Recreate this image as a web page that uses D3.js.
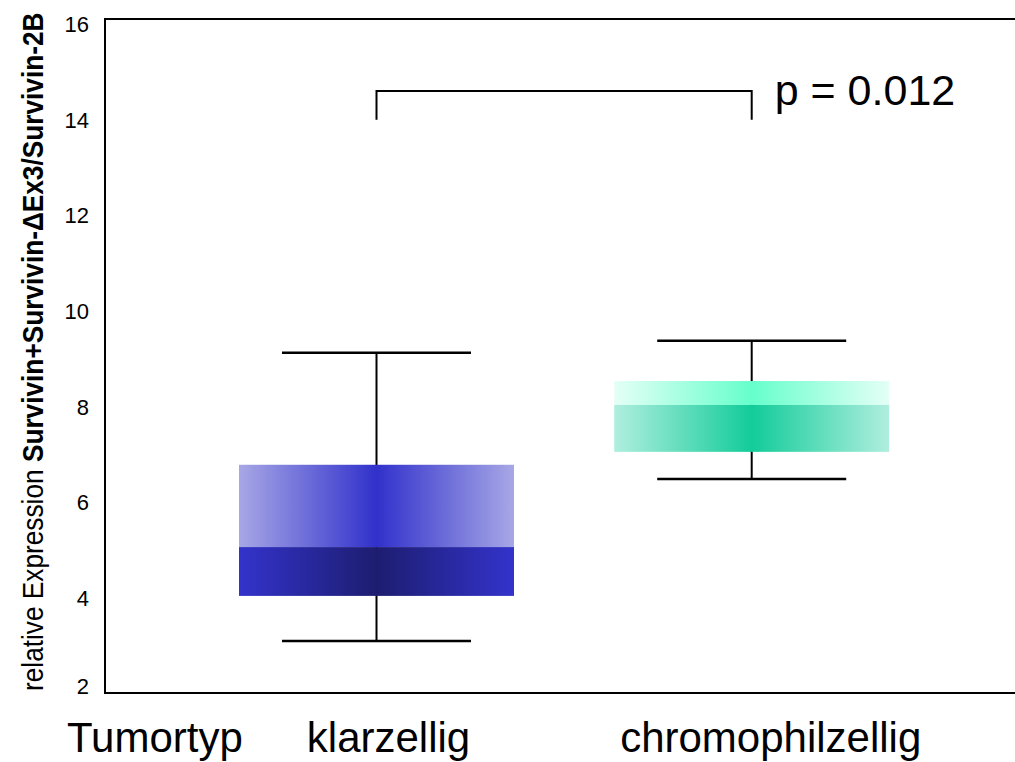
<!DOCTYPE html>
<html>
<head>
<meta charset="utf-8">
<script src="https://cdn.jsdelivr.net/npm/d3@7/dist/d3.min.js"></script>
<style>
  html, body { margin: 0; padding: 0; background: #fff; }
  svg { display: block; font-family: "Liberation Sans", Arial, sans-serif; }
</style>
</head>
<body>
<svg id="chart" width="1015" height="762"></svg>
<script>
// Tumour types and box-plot statistics (relative expression)
const categories = ["klarzellig", "chromophilzellig"];
const whiskerLow  = [3.11, 6.49];
const q1          = [4.05, 7.06];
const median      = [5.07, 8.04];
const q3          = [6.79, 8.54];
const whiskerHigh = [9.13, 9.38];
const yTicks = [2, 4, 6, 8, 10, 12, 14, 16];
const pValueText = "p = 0.012";
const bracketLow = 14.0, bracketHigh = 14.6;

// gradient colours per box: [edge, centre] for the upper (q3–median) and lower (median–q1) halves
const upperColors = [["#a7a7e6", "#3131cc"], ["#e4fff6", "#66ffcc"]];
const lowerColors = [["#3333cc", "#1d1d70"], ["#b0eedf", "#12cc99"]];

const svg = d3.select("#chart");
const frame = { left: 105, top: 19, right: 1040, bottom: 693 };

const y = d3.scaleLinear().domain([2, 16]).range([694, 24]);
const x = d3.scalePoint().domain(categories).range([376.5, 751.7]);
const boxHalf = 137.5, capHalf = 94.5;

// horizontal gradients: edge -> centre -> edge
const defs = svg.append("defs");
function addGradient(id, edge, centre) {
  const g = defs.append("linearGradient").attr("id", id)
    .attr("x1", "0%").attr("x2", "100%").attr("y1", "0%").attr("y2", "0%");
  g.append("stop").attr("offset", "0%").attr("stop-color", edge);
  g.append("stop").attr("offset", "50%").attr("stop-color", centre);
  g.append("stop").attr("offset", "100%").attr("stop-color", edge);
}
categories.forEach((c, i) => {
  addGradient("up" + i, upperColors[i][0], upperColors[i][1]);
  addGradient("lo" + i, lowerColors[i][0], lowerColors[i][1]);
});

// frame (open on the right)
svg.append("path")
  .attr("d", `M${frame.right},${frame.top}H${frame.left}V${frame.bottom}H${frame.right}`)
  .attr("fill", "none").attr("stroke", "#000").attr("stroke-width", 2);

// y tick labels (lowest one lifted clear of the baseline)
svg.append("g").selectAll("text").data(yTicks).join("text")
  .attr("x", 89)
  .attr("y", d => Math.min(y(d), 686))
  .attr("dy", "0.36em")
  .attr("text-anchor", "end")
  .attr("font-size", 22)
  .text(d => d);

// y axis title
const yt = svg.append("text")
  .attr("transform", "translate(43,691) rotate(-90) scale(0.905,1)")
  .attr("font-size", 29);
yt.append("tspan").text("relative Expression ");
yt.append("tspan").attr("font-weight", "bold").text("Survivin+Survivin-\u0394Ex3/Survivin-2B");

// boxes with whiskers
const boxes = svg.append("g").selectAll("g").data(categories).join("g");
boxes.append("line")
  .attr("x1", d => x(d)).attr("x2", d => x(d))
  .attr("y1", (d, i) => y(whiskerHigh[i])).attr("y2", (d, i) => y(whiskerLow[i]))
  .attr("stroke", "#000").attr("stroke-width", 2);
[whiskerHigh, whiskerLow].forEach(arr => {
  boxes.append("line")
    .attr("x1", d => x(d) - capHalf).attr("x2", d => x(d) + capHalf)
    .attr("y1", (d, i) => y(arr[i])).attr("y2", (d, i) => y(arr[i]))
    .attr("stroke", "#000").attr("stroke-width", 2.5);
});
boxes.append("rect")
  .attr("x", d => x(d) - boxHalf).attr("width", boxHalf * 2)
  .attr("y", (d, i) => y(q3[i])).attr("height", (d, i) => y(median[i]) - y(q3[i]))
  .attr("fill", (d, i) => `url(#up${i})`);
boxes.append("rect")
  .attr("x", d => x(d) - boxHalf).attr("width", boxHalf * 2)
  .attr("y", (d, i) => y(median[i])).attr("height", (d, i) => y(q1[i]) - y(median[i]))
  .attr("fill", (d, i) => `url(#lo${i})`);

// significance bracket
const xa = x(categories[0]), xb = x(categories[1]);
svg.append("path")
  .attr("d", `M${xa},${y(bracketLow)}V${y(bracketHigh)}H${xb}V${y(bracketLow)}`)
  .attr("fill", "none").attr("stroke", "#000").attr("stroke-width", 2);
svg.append("text")
  .attr("x", xb + 23).attr("y", 105)
  .attr("font-size", 43)
  .text(pValueText);

// x labels
svg.append("text").attr("x", 67).attr("y", 752).attr("font-size", 42).text("Tumortyp");
const labelShift = [12, 19];
svg.append("g").selectAll("text").data(categories).join("text")
  .attr("x", (d, i) => x(d) + labelShift[i])
  .attr("y", 752)
  .attr("text-anchor", "middle")
  .attr("font-size", 42)
  .text(d => d);
</script>
</body>
</html>
